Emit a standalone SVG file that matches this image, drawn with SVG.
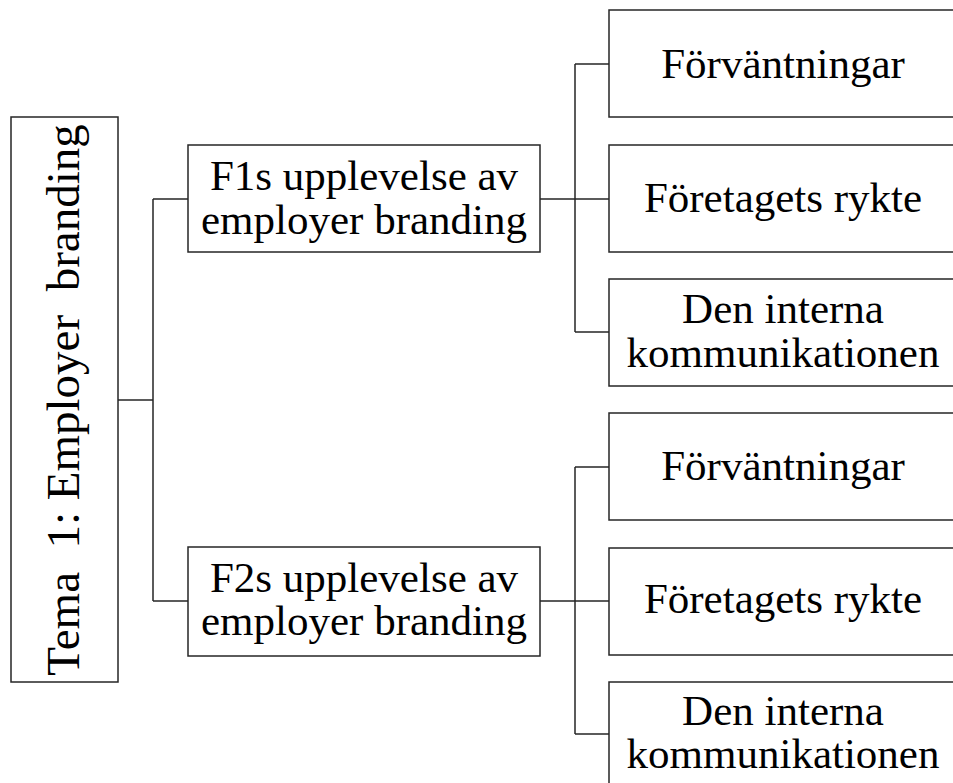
<svg xmlns="http://www.w3.org/2000/svg" width="953" height="783" viewBox="0 0 953 783">
<style>
.box{fill:#fff;stroke:#262626;stroke-width:1.5}
.t{font-family:"Liberation Serif","Times New Roman",serif;font-size:43px;fill:#000;text-anchor:middle}
.main{font-size:47px;white-space:pre}
.conn{fill:none;stroke:#262626;stroke-width:1.5}
</style>
<rect width="953" height="783" fill="#fff"/>
<g id="connectors">
<path class="conn" d="M118,400H153M153,199V601M153,199H188M153,601H188"/>
<path class="conn" d="M540,199H575M575,64V332M575,64H609M575,199H609M575,332H609"/>
<path class="conn" d="M540,601H575M575,467V734M575,467H609M575,601H609M575,734H609"/>
</g>
<g id="tema">
<rect class="box" x="11" y="117" width="107" height="565"/>
<text class="t main" xml:space="preserve" transform="translate(79,400) rotate(-90)">Tema  1: Employer  branding</text>
</g>
<g id="f1">
<rect class="box" x="188" y="145" width="352" height="107"/>
<text class="t" x="364" y="190">F1s upplevelse av</text>
<text class="t" x="364" y="234">employer branding</text>
</g>
<g id="f2">
<rect class="box" x="188" y="547" width="352" height="109"/>
<text class="t" x="364" y="592">F2s upplevelse av</text>
<text class="t" x="364" y="635">employer branding</text>
</g>
<g id="f1-forvantningar">
<rect class="box" x="609" y="10" width="360" height="107"/>
<text class="t" x="783" y="78">Förväntningar</text>
</g>
<g id="f1-rykte">
<rect class="box" x="609" y="145" width="360" height="107"/>
<text class="t" x="783" y="212">Företagets rykte</text>
</g>
<g id="f1-intern">
<rect class="box" x="609" y="279" width="360" height="107"/>
<text class="t" x="783" y="323">Den interna</text>
<text class="t" x="783" y="367">kommunikationen</text>
</g>
<g id="f2-forvantningar">
<rect class="box" x="609" y="413" width="360" height="107"/>
<text class="t" x="783" y="480">Förväntningar</text>
</g>
<g id="f2-rykte">
<rect class="box" x="609" y="548" width="360" height="107"/>
<text class="t" x="783" y="613">Företagets rykte</text>
</g>
<g id="f2-intern">
<rect class="box" x="609" y="682" width="360" height="130"/>
<text class="t" x="783" y="725">Den interna</text>
<text class="t" x="783" y="768">kommunikationen</text>
</g>
</svg>
